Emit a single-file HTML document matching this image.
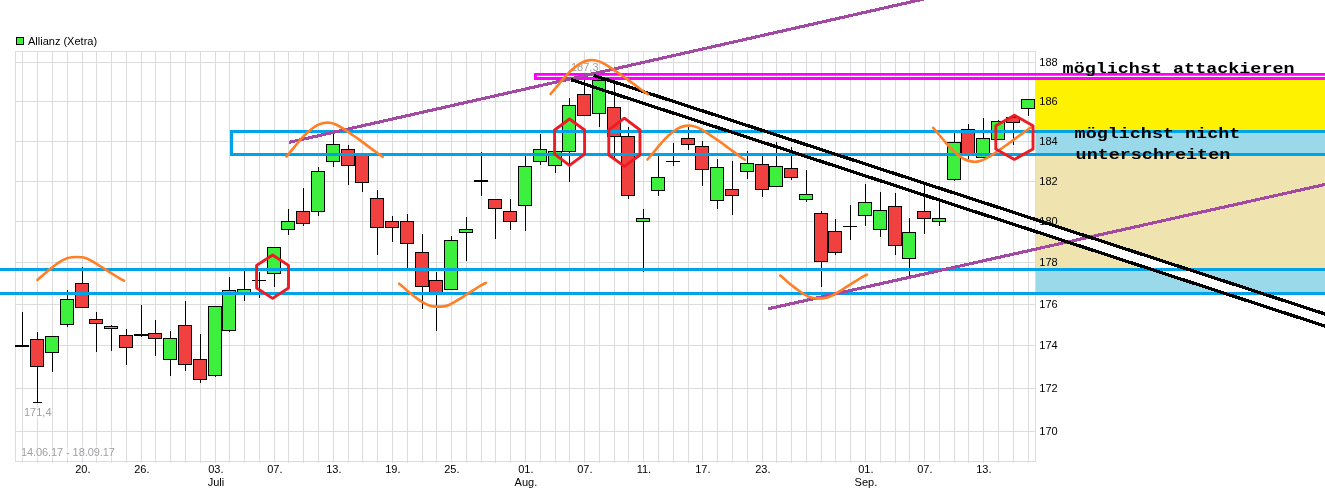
<!DOCTYPE html>
<html lang="de"><head><meta charset="utf-8"><title>Allianz (Xetra)</title>
<style>html,body{margin:0;padding:0;background:#fff;overflow:hidden}svg{display:block}</style>
</head><body>
<svg width="1325" height="504" viewBox="0 0 1325 504" style="display:block">
<rect x="0" y="0" width="1325" height="504" fill="#ffffff"/>
<g shape-rendering="crispEdges" fill="#dcdcdc">
<rect x="22" y="51" width="1" height="412"/>
<rect x="37" y="51" width="1" height="412"/>
<rect x="52" y="51" width="1" height="412"/>
<rect x="67" y="51" width="1" height="412"/>
<rect x="82" y="51" width="1" height="412"/>
<rect x="96" y="51" width="1" height="412"/>
<rect x="111" y="51" width="1" height="412"/>
<rect x="126" y="51" width="1" height="412"/>
<rect x="141" y="51" width="1" height="412"/>
<rect x="155" y="51" width="1" height="412"/>
<rect x="170" y="51" width="1" height="412"/>
<rect x="185" y="51" width="1" height="412"/>
<rect x="200" y="51" width="1" height="412"/>
<rect x="215" y="51" width="1" height="412"/>
<rect x="229" y="51" width="1" height="412"/>
<rect x="244" y="51" width="1" height="412"/>
<rect x="259" y="51" width="1" height="412"/>
<rect x="274" y="51" width="1" height="412"/>
<rect x="288" y="51" width="1" height="412"/>
<rect x="303" y="51" width="1" height="412"/>
<rect x="318" y="51" width="1" height="412"/>
<rect x="333" y="51" width="1" height="412"/>
<rect x="348" y="51" width="1" height="412"/>
<rect x="362" y="51" width="1" height="412"/>
<rect x="377" y="51" width="1" height="412"/>
<rect x="392" y="51" width="1" height="412"/>
<rect x="407" y="51" width="1" height="412"/>
<rect x="422" y="51" width="1" height="412"/>
<rect x="436" y="51" width="1" height="412"/>
<rect x="451" y="51" width="1" height="412"/>
<rect x="466" y="51" width="1" height="412"/>
<rect x="481" y="51" width="1" height="412"/>
<rect x="495" y="51" width="1" height="412"/>
<rect x="510" y="51" width="1" height="412"/>
<rect x="525" y="51" width="1" height="412"/>
<rect x="540" y="51" width="1" height="412"/>
<rect x="555" y="51" width="1" height="412"/>
<rect x="569" y="51" width="1" height="412"/>
<rect x="584" y="51" width="1" height="412"/>
<rect x="599" y="51" width="1" height="412"/>
<rect x="614" y="51" width="1" height="412"/>
<rect x="628" y="51" width="1" height="412"/>
<rect x="643" y="51" width="1" height="412"/>
<rect x="658" y="51" width="1" height="412"/>
<rect x="673" y="51" width="1" height="412"/>
<rect x="688" y="51" width="1" height="412"/>
<rect x="702" y="51" width="1" height="412"/>
<rect x="717" y="51" width="1" height="412"/>
<rect x="732" y="51" width="1" height="412"/>
<rect x="747" y="51" width="1" height="412"/>
<rect x="762" y="51" width="1" height="412"/>
<rect x="776" y="51" width="1" height="412"/>
<rect x="791" y="51" width="1" height="412"/>
<rect x="806" y="51" width="1" height="412"/>
<rect x="821" y="51" width="1" height="412"/>
<rect x="835" y="51" width="1" height="412"/>
<rect x="850" y="51" width="1" height="412"/>
<rect x="865" y="51" width="1" height="412"/>
<rect x="880" y="51" width="1" height="412"/>
<rect x="895" y="51" width="1" height="412"/>
<rect x="909" y="51" width="1" height="412"/>
<rect x="924" y="51" width="1" height="412"/>
<rect x="939" y="51" width="1" height="412"/>
<rect x="954" y="51" width="1" height="412"/>
<rect x="968" y="51" width="1" height="412"/>
<rect x="983" y="51" width="1" height="412"/>
<rect x="998" y="51" width="1" height="412"/>
<rect x="1013" y="51" width="1" height="412"/>
<rect x="1028" y="51" width="1" height="412"/>
<rect x="15" y="62" width="1020" height="1"/>
<rect x="15" y="101" width="1020" height="1"/>
<rect x="15" y="141" width="1020" height="1"/>
<rect x="15" y="181" width="1020" height="1"/>
<rect x="15" y="221" width="1020" height="1"/>
<rect x="15" y="262" width="1020" height="1"/>
<rect x="15" y="304" width="1020" height="1"/>
<rect x="15" y="345" width="1020" height="1"/>
<rect x="15" y="388" width="1020" height="1"/>
<rect x="15" y="431" width="1020" height="1"/>
<rect x="15" y="51" width="1021" height="1"/>
<rect x="15" y="461" width="1021" height="1"/>
<rect x="15" y="51" width="1" height="411"/>
<rect x="1035" y="51" width="1" height="411"/>
</g>
<g font-family="'Liberation Sans', Arial, sans-serif" font-size="11px" fill="#9d9fa3">
<rect x="23.5" y="407" width="28.5" height="10.5" fill="#fff" fill-opacity="0.8"/>
<rect x="570.5" y="62.5" width="28.5" height="9.5" fill="#fff" fill-opacity="0.8"/>
<rect x="20.5" y="447" width="95" height="10.5" fill="#fff" fill-opacity="0.45"/>
<text x="24" y="415.9">171,4</text>
<text x="571" y="71.2">187,3</text>
<text x="21" y="456.2" letter-spacing="-0.09">14.06.17 - 18.09.17</text>
</g>
<g shape-rendering="crispEdges">
<rect x="22" y="312" width="1" height="35" fill="#000"/>
<rect x="15" y="345" width="14" height="2" fill="#000"/>
<rect x="37" y="332" width="1" height="71" fill="#000"/>
<rect x="30" y="339" width="14" height="28" fill="#000"/>
<rect x="31" y="340" width="12" height="26" fill="#f04040"/>
<rect x="52" y="336" width="1" height="36" fill="#000"/>
<rect x="45" y="336" width="14" height="17" fill="#000"/>
<rect x="46" y="337" width="12" height="15" fill="#3df03d"/>
<rect x="67" y="290" width="1" height="37" fill="#000"/>
<rect x="60" y="299" width="14" height="26" fill="#000"/>
<rect x="61" y="300" width="12" height="24" fill="#3df03d"/>
<rect x="82" y="267" width="1" height="41" fill="#000"/>
<rect x="75" y="283" width="14" height="25" fill="#000"/>
<rect x="76" y="284" width="12" height="23" fill="#f04040"/>
<rect x="96" y="312" width="1" height="40" fill="#000"/>
<rect x="89" y="319" width="14" height="5" fill="#000"/>
<rect x="90" y="320" width="12" height="3" fill="#f04040"/>
<rect x="111" y="325" width="1" height="26" fill="#000"/>
<rect x="104" y="326" width="14" height="3" fill="#000"/>
<rect x="105" y="327" width="12" height="1" fill="#3df03d"/>
<rect x="126" y="329" width="1" height="36" fill="#000"/>
<rect x="119" y="335" width="14" height="13" fill="#000"/>
<rect x="120" y="336" width="12" height="11" fill="#f04040"/>
<rect x="141" y="305" width="1" height="32" fill="#000"/>
<rect x="134" y="334" width="14" height="2" fill="#000"/>
<rect x="155" y="320" width="1" height="36" fill="#000"/>
<rect x="148" y="333" width="14" height="6" fill="#000"/>
<rect x="149" y="334" width="12" height="4" fill="#f04040"/>
<rect x="170" y="331" width="1" height="45" fill="#000"/>
<rect x="163" y="338" width="14" height="22" fill="#000"/>
<rect x="164" y="339" width="12" height="20" fill="#3df03d"/>
<rect x="185" y="301" width="1" height="70" fill="#000"/>
<rect x="178" y="325" width="14" height="40" fill="#000"/>
<rect x="179" y="326" width="12" height="38" fill="#f04040"/>
<rect x="200" y="334" width="1" height="49" fill="#000"/>
<rect x="193" y="359" width="14" height="21" fill="#000"/>
<rect x="194" y="360" width="12" height="19" fill="#f04040"/>
<rect x="215" y="306" width="1" height="71" fill="#000"/>
<rect x="208" y="306" width="14" height="70" fill="#000"/>
<rect x="209" y="307" width="12" height="68" fill="#3df03d"/>
<rect x="229" y="277" width="1" height="55" fill="#000"/>
<rect x="222" y="290" width="14" height="41" fill="#000"/>
<rect x="223" y="291" width="12" height="39" fill="#3df03d"/>
<rect x="244" y="270" width="1" height="31" fill="#000"/>
<rect x="237" y="289" width="14" height="5" fill="#000"/>
<rect x="238" y="290" width="12" height="3" fill="#3df03d"/>
<rect x="259" y="272" width="1" height="26" fill="#000"/>
<rect x="252" y="280" width="14" height="1" fill="#000"/>
<rect x="274" y="247" width="1" height="40" fill="#000"/>
<rect x="267" y="247" width="14" height="27" fill="#000"/>
<rect x="268" y="248" width="12" height="25" fill="#3df03d"/>
<rect x="288" y="209" width="1" height="26" fill="#000"/>
<rect x="281" y="221" width="14" height="9" fill="#000"/>
<rect x="282" y="222" width="12" height="7" fill="#3df03d"/>
<rect x="303" y="188" width="1" height="38" fill="#000"/>
<rect x="296" y="211" width="14" height="13" fill="#000"/>
<rect x="297" y="212" width="12" height="11" fill="#f04040"/>
<rect x="318" y="167" width="1" height="49" fill="#000"/>
<rect x="311" y="171" width="14" height="41" fill="#000"/>
<rect x="312" y="172" width="12" height="39" fill="#3df03d"/>
<rect x="333" y="133" width="1" height="34" fill="#000"/>
<rect x="326" y="144" width="14" height="18" fill="#000"/>
<rect x="327" y="145" width="12" height="16" fill="#3df03d"/>
<rect x="348" y="145" width="1" height="40" fill="#000"/>
<rect x="341" y="149" width="14" height="17" fill="#000"/>
<rect x="342" y="150" width="12" height="15" fill="#f04040"/>
<rect x="362" y="154" width="1" height="38" fill="#000"/>
<rect x="355" y="154" width="14" height="29" fill="#000"/>
<rect x="356" y="155" width="12" height="27" fill="#f04040"/>
<rect x="377" y="190" width="1" height="65" fill="#000"/>
<rect x="370" y="198" width="14" height="30" fill="#000"/>
<rect x="371" y="199" width="12" height="28" fill="#f04040"/>
<rect x="392" y="216" width="1" height="26" fill="#000"/>
<rect x="385" y="221" width="14" height="7" fill="#000"/>
<rect x="386" y="222" width="12" height="5" fill="#f04040"/>
<rect x="407" y="214" width="1" height="55" fill="#000"/>
<rect x="400" y="221" width="14" height="23" fill="#000"/>
<rect x="401" y="222" width="12" height="21" fill="#f04040"/>
<rect x="422" y="234" width="1" height="75" fill="#000"/>
<rect x="415" y="252" width="14" height="35" fill="#000"/>
<rect x="416" y="253" width="12" height="33" fill="#f04040"/>
<rect x="436" y="272" width="1" height="59" fill="#000"/>
<rect x="429" y="280" width="14" height="14" fill="#000"/>
<rect x="430" y="281" width="12" height="12" fill="#f04040"/>
<rect x="451" y="236" width="1" height="54" fill="#000"/>
<rect x="444" y="240" width="14" height="50" fill="#000"/>
<rect x="445" y="241" width="12" height="48" fill="#3df03d"/>
<rect x="466" y="217" width="1" height="44" fill="#000"/>
<rect x="459" y="229" width="14" height="4" fill="#000"/>
<rect x="460" y="230" width="12" height="2" fill="#3df03d"/>
<rect x="481" y="152" width="1" height="44" fill="#000"/>
<rect x="474" y="180" width="14" height="2" fill="#000"/>
<rect x="495" y="199" width="1" height="40" fill="#000"/>
<rect x="488" y="199" width="14" height="10" fill="#000"/>
<rect x="489" y="200" width="12" height="8" fill="#f04040"/>
<rect x="510" y="199" width="1" height="31" fill="#000"/>
<rect x="503" y="211" width="14" height="11" fill="#000"/>
<rect x="504" y="212" width="12" height="9" fill="#f04040"/>
<rect x="525" y="155" width="1" height="76" fill="#000"/>
<rect x="518" y="166" width="14" height="40" fill="#000"/>
<rect x="519" y="167" width="12" height="38" fill="#3df03d"/>
<rect x="540" y="134" width="1" height="31" fill="#000"/>
<rect x="533" y="149" width="14" height="13" fill="#000"/>
<rect x="534" y="150" width="12" height="11" fill="#3df03d"/>
<rect x="555" y="151" width="1" height="22" fill="#000"/>
<rect x="548" y="151" width="14" height="15" fill="#000"/>
<rect x="549" y="152" width="12" height="13" fill="#3df03d"/>
<rect x="569" y="98" width="1" height="84" fill="#000"/>
<rect x="562" y="105" width="14" height="47" fill="#000"/>
<rect x="563" y="106" width="12" height="45" fill="#3df03d"/>
<rect x="584" y="76" width="1" height="40" fill="#000"/>
<rect x="577" y="94" width="14" height="22" fill="#000"/>
<rect x="578" y="95" width="12" height="20" fill="#f04040"/>
<rect x="599" y="80" width="1" height="47" fill="#000"/>
<rect x="592" y="80" width="14" height="34" fill="#000"/>
<rect x="593" y="81" width="12" height="32" fill="#3df03d"/>
<rect x="614" y="83" width="1" height="77" fill="#000"/>
<rect x="607" y="107" width="14" height="30" fill="#000"/>
<rect x="608" y="108" width="12" height="28" fill="#f04040"/>
<rect x="628" y="127" width="1" height="72" fill="#000"/>
<rect x="621" y="136" width="14" height="60" fill="#000"/>
<rect x="622" y="137" width="12" height="58" fill="#f04040"/>
<rect x="643" y="209" width="1" height="63" fill="#000"/>
<rect x="636" y="218" width="14" height="4" fill="#000"/>
<rect x="637" y="219" width="12" height="2" fill="#3df03d"/>
<rect x="658" y="156" width="1" height="40" fill="#000"/>
<rect x="651" y="177" width="14" height="14" fill="#000"/>
<rect x="652" y="178" width="12" height="12" fill="#3df03d"/>
<rect x="673" y="143" width="1" height="23" fill="#000"/>
<rect x="666" y="161" width="14" height="1" fill="#000"/>
<rect x="688" y="127" width="1" height="23" fill="#000"/>
<rect x="681" y="138" width="14" height="7" fill="#000"/>
<rect x="682" y="139" width="12" height="5" fill="#f04040"/>
<rect x="702" y="141" width="1" height="45" fill="#000"/>
<rect x="695" y="146" width="14" height="24" fill="#000"/>
<rect x="696" y="147" width="12" height="22" fill="#f04040"/>
<rect x="717" y="159" width="1" height="50" fill="#000"/>
<rect x="710" y="167" width="14" height="34" fill="#000"/>
<rect x="711" y="168" width="12" height="32" fill="#3df03d"/>
<rect x="732" y="161" width="1" height="54" fill="#000"/>
<rect x="725" y="189" width="14" height="7" fill="#000"/>
<rect x="726" y="190" width="12" height="5" fill="#f04040"/>
<rect x="747" y="151" width="1" height="28" fill="#000"/>
<rect x="740" y="163" width="14" height="9" fill="#000"/>
<rect x="741" y="164" width="12" height="7" fill="#3df03d"/>
<rect x="762" y="156" width="1" height="41" fill="#000"/>
<rect x="755" y="164" width="14" height="26" fill="#000"/>
<rect x="756" y="165" width="12" height="24" fill="#f04040"/>
<rect x="776" y="142" width="1" height="45" fill="#000"/>
<rect x="769" y="166" width="14" height="21" fill="#000"/>
<rect x="770" y="167" width="12" height="19" fill="#3df03d"/>
<rect x="791" y="147" width="1" height="33" fill="#000"/>
<rect x="784" y="168" width="14" height="10" fill="#000"/>
<rect x="785" y="169" width="12" height="8" fill="#f04040"/>
<rect x="806" y="170" width="1" height="32" fill="#000"/>
<rect x="799" y="194" width="14" height="6" fill="#000"/>
<rect x="800" y="195" width="12" height="4" fill="#3df03d"/>
<rect x="821" y="211" width="1" height="76" fill="#000"/>
<rect x="814" y="213" width="14" height="49" fill="#000"/>
<rect x="815" y="214" width="12" height="47" fill="#f04040"/>
<rect x="835" y="219" width="1" height="36" fill="#000"/>
<rect x="828" y="231" width="14" height="22" fill="#000"/>
<rect x="829" y="232" width="12" height="20" fill="#f04040"/>
<rect x="850" y="205" width="1" height="35" fill="#000"/>
<rect x="843" y="226" width="14" height="1" fill="#000"/>
<rect x="865" y="184" width="1" height="42" fill="#000"/>
<rect x="858" y="202" width="14" height="14" fill="#000"/>
<rect x="859" y="203" width="12" height="12" fill="#3df03d"/>
<rect x="880" y="192" width="1" height="45" fill="#000"/>
<rect x="873" y="210" width="14" height="20" fill="#000"/>
<rect x="874" y="211" width="12" height="18" fill="#3df03d"/>
<rect x="895" y="193" width="1" height="62" fill="#000"/>
<rect x="888" y="206" width="14" height="40" fill="#000"/>
<rect x="889" y="207" width="12" height="38" fill="#f04040"/>
<rect x="909" y="218" width="1" height="58" fill="#000"/>
<rect x="902" y="232" width="14" height="27" fill="#000"/>
<rect x="903" y="233" width="12" height="25" fill="#3df03d"/>
<rect x="924" y="184" width="1" height="50" fill="#000"/>
<rect x="917" y="211" width="14" height="8" fill="#000"/>
<rect x="918" y="212" width="12" height="6" fill="#f04040"/>
<rect x="939" y="199" width="1" height="27" fill="#000"/>
<rect x="932" y="218" width="14" height="4" fill="#000"/>
<rect x="933" y="219" width="12" height="2" fill="#3df03d"/>
<rect x="954" y="133" width="1" height="48" fill="#000"/>
<rect x="947" y="142" width="14" height="38" fill="#000"/>
<rect x="948" y="143" width="12" height="36" fill="#3df03d"/>
<rect x="968" y="124" width="1" height="35" fill="#000"/>
<rect x="961" y="129" width="14" height="25" fill="#000"/>
<rect x="962" y="130" width="12" height="23" fill="#f04040"/>
<rect x="983" y="118" width="1" height="40" fill="#000"/>
<rect x="976" y="138" width="14" height="20" fill="#000"/>
<rect x="977" y="139" width="12" height="18" fill="#3df03d"/>
<rect x="998" y="120" width="1" height="20" fill="#000"/>
<rect x="991" y="121" width="14" height="19" fill="#000"/>
<rect x="992" y="122" width="12" height="17" fill="#3df03d"/>
<rect x="1013" y="115" width="1" height="30" fill="#000"/>
<rect x="1006" y="117" width="14" height="6" fill="#000"/>
<rect x="1007" y="118" width="12" height="4" fill="#f04040"/>
<rect x="1028" y="99" width="1" height="17" fill="#000"/>
<rect x="1021" y="99" width="14" height="10" fill="#000"/>
<rect x="1022" y="100" width="12" height="8" fill="#3df03d"/>
<rect x="33" y="402" width="9" height="1" fill="#000"/>
</g>
<rect x="16" y="37" width="8" height="8" fill="#000" shape-rendering="crispEdges"/>
<rect x="17" y="38" width="6" height="6" fill="#3df03d" shape-rendering="crispEdges"/>
<text x="28" y="44.8" font-family="'Liberation Sans', Arial, sans-serif" font-size="11px" fill="#000">Allianz (Xetra)</text>
<g font-family="'Liberation Sans', Arial, sans-serif" font-size="11px" fill="#000" text-anchor="middle">
<text x="82.9" y="473.2">20.</text>
<text x="141.9" y="473.2">26.</text>
<text x="215.9" y="473.2">03.</text>
<text x="274.9" y="473.2">07.</text>
<text x="333.9" y="473.2">13.</text>
<text x="392.9" y="473.2">19.</text>
<text x="451.9" y="473.2">25.</text>
<text x="525.9" y="473.2">01.</text>
<text x="584.9" y="473.2">07.</text>
<text x="643.9" y="473.2">11.</text>
<text x="702.9" y="473.2">17.</text>
<text x="762.9" y="473.2">23.</text>
<text x="865.9" y="473.2">01.</text>
<text x="924.9" y="473.2">07.</text>
<text x="983.9" y="473.2">13.</text>
<text x="215.9" y="486.2">Juli</text>
<text x="525.9" y="486.2">Aug.</text>
<text x="865.9" y="486.2">Sep.</text>
</g>
<g shape-rendering="crispEdges">
<rect x="1036" y="80" width="289" height="50" fill="#fff200"/>
<rect x="1036" y="133" width="289" height="20" fill="#99d9ea"/>
<rect x="1036" y="156" width="289" height="112" fill="#efe4b0"/>
<rect x="1036" y="271" width="289" height="21" fill="#99d9ea"/>
</g>
<polygon points="1036,219.70 1325,314.00 1325,326.12 1036,231.64" fill="#fff"/>
<g font-family="'Liberation Sans', Arial, sans-serif" font-size="11px" fill="#000">
<text x="1039.3" y="66.2">188</text>
<text x="1039.3" y="105.2">186</text>
<text x="1039.3" y="145.2">184</text>
<text x="1039.3" y="185.2">182</text>
<text x="1039.3" y="225.2">180</text>
<text x="1039.3" y="266.2">178</text>
<text x="1039.3" y="308.2">176</text>
<text x="1039.3" y="349.2">174</text>
<text x="1039.3" y="392.2">172</text>
<text x="1039.3" y="435.2">170</text>
</g>
<path d="M534 73 H1330 V80 H534 Z M536.8 75.7 V77.1 H1330 V75.7 Z" fill="#ff00ff" fill-rule="evenodd"/>
<g fill="#00a2e8" shape-rendering="crispEdges">
<rect x="230" y="130" width="1095" height="3"/>
<rect x="230" y="153" width="1095" height="3"/>
<rect x="230" y="130" width="3" height="26"/>
<rect x="0" y="268" width="1325" height="3"/>
<rect x="0" y="292" width="1325" height="3"/>
</g>
<g stroke="#a349a4" stroke-width="3.1" fill="none" shape-rendering="crispEdges">
<line x1="288.9" y1="142.4" x2="928.3" y2="-2"/>
<line x1="767.9" y1="308.9" x2="1328" y2="183.83"/>
</g>
<g stroke="#000" stroke-width="3.25" fill="none" shape-rendering="crispEdges">
<line x1="593.8" y1="75.4" x2="1328" y2="314.98"/>
<line x1="570.9" y1="79.6" x2="1328" y2="327.1"/>
</g>
<g stroke="#ff7f27" stroke-width="2.6" fill="none" stroke-linecap="round" stroke-linejoin="round">
<path d="M37.40 279.90 C38.65 278.82 42.32 275.57 44.90 273.40 C47.48 271.23 50.42 268.82 52.90 266.90 C55.38 264.98 57.48 263.32 59.80 261.90 C62.12 260.48 64.80 259.18 66.80 258.40 C68.80 257.62 69.30 257.40 71.80 257.20 C74.30 257.00 79.15 256.92 81.80 257.20 C84.45 257.48 85.38 257.87 87.70 258.90 C90.02 259.93 93.03 261.82 95.70 263.40 C98.37 264.98 101.05 266.73 103.70 268.40 C106.35 270.07 108.95 271.73 111.60 273.40 C114.25 275.07 117.52 277.18 119.60 278.40 C121.68 279.62 123.35 280.32 124.10 280.70"/>
<path d="M286.40 156.60 C287.82 154.90 292.15 149.68 294.90 146.40 C297.65 143.12 300.42 139.57 302.90 136.90 C305.38 134.23 307.48 132.32 309.80 130.40 C312.12 128.48 314.47 126.63 316.80 125.40 C319.13 124.17 321.63 123.43 323.80 123.00 C325.97 122.57 327.82 122.55 329.80 122.80 C331.78 123.05 333.38 123.48 335.70 124.50 C338.02 125.52 341.03 127.25 343.70 128.90 C346.37 130.55 349.05 132.57 351.70 134.40 C354.35 136.23 356.95 137.98 359.60 139.90 C362.25 141.82 364.93 143.92 367.60 145.90 C370.27 147.88 373.08 149.98 375.60 151.80 C378.12 153.62 381.52 155.97 382.70 156.80"/>
<path d="M550.60 94.00 C552.03 92.30 556.41 87.08 559.19 83.80 C561.96 80.52 564.76 76.97 567.26 74.30 C569.77 71.63 571.89 69.72 574.23 67.80 C576.57 65.88 578.95 64.03 581.30 62.80 C583.66 61.57 586.19 60.83 588.37 60.40 C590.56 59.97 592.43 59.95 594.43 60.20 C596.44 60.45 598.05 60.88 600.39 61.90 C602.73 62.92 605.78 64.65 608.47 66.30 C611.17 67.95 613.88 69.97 616.55 71.80 C619.23 73.63 621.86 75.38 624.53 77.30 C627.21 79.22 629.92 81.32 632.61 83.30 C635.31 85.28 638.15 87.38 640.69 89.20 C643.23 91.02 646.67 93.37 647.86 94.20"/>
<path d="M647.50 159.50 C648.93 157.80 653.31 152.58 656.09 149.30 C658.86 146.02 661.66 142.47 664.16 139.80 C666.67 137.13 668.79 135.22 671.13 133.30 C673.47 131.38 675.85 129.53 678.20 128.30 C680.56 127.07 683.09 126.33 685.27 125.90 C687.46 125.47 689.33 125.45 691.33 125.70 C693.34 125.95 694.95 126.38 697.29 127.40 C699.63 128.42 702.68 130.15 705.37 131.80 C708.07 133.45 710.78 135.47 713.45 137.30 C716.13 139.13 718.76 140.88 721.43 142.80 C724.11 144.72 726.82 146.82 729.51 148.80 C732.21 150.78 735.05 152.88 737.59 154.70 C740.13 156.52 743.57 158.87 744.76 159.70"/>
<path d="M399.20 283.70 C400.45 284.78 404.12 288.03 406.70 290.20 C409.28 292.37 412.22 294.78 414.70 296.70 C417.18 298.62 419.28 300.28 421.60 301.70 C423.92 303.12 426.60 304.42 428.60 305.20 C430.60 305.98 431.10 306.20 433.60 306.40 C436.10 306.60 440.95 306.68 443.60 306.40 C446.25 306.12 447.18 305.73 449.50 304.70 C451.82 303.67 454.83 301.78 457.50 300.20 C460.17 298.62 462.85 296.87 465.50 295.20 C468.15 293.53 470.75 291.87 473.40 290.20 C476.05 288.53 479.32 286.42 481.40 285.20 C483.48 283.98 485.15 283.28 485.90 282.90"/>
<path d="M780.20 275.40 C781.45 276.48 785.12 279.73 787.70 281.90 C790.28 284.07 793.22 286.48 795.70 288.40 C798.18 290.32 800.28 291.98 802.60 293.40 C804.92 294.82 807.60 296.12 809.60 296.90 C811.60 297.68 812.10 297.90 814.60 298.10 C817.10 298.30 821.95 298.38 824.60 298.10 C827.25 297.82 828.18 297.43 830.50 296.40 C832.82 295.37 835.83 293.48 838.50 291.90 C841.17 290.32 843.85 288.57 846.50 286.90 C849.15 285.23 851.75 283.57 854.40 281.90 C857.05 280.23 860.32 278.12 862.40 276.90 C864.48 275.68 866.15 274.98 866.90 274.60"/>
<path d="M933.20 127.80 C934.63 129.50 939.02 134.72 941.80 138.00 C944.59 141.28 947.38 144.83 949.90 147.50 C952.41 150.17 954.54 152.08 956.88 154.00 C959.23 155.92 961.60 157.77 963.96 159.00 C966.33 160.23 968.86 160.97 971.05 161.40 C973.24 161.83 975.11 161.85 977.12 161.60 C979.13 161.35 980.75 160.92 983.09 159.90 C985.44 158.88 988.49 157.15 991.19 155.50 C993.89 153.85 996.60 151.83 999.28 150.00 C1001.97 148.17 1004.60 146.42 1007.28 144.50 C1009.96 142.58 1012.68 140.48 1015.37 138.50 C1018.07 136.52 1020.92 134.42 1023.47 132.60 C1026.02 130.78 1029.46 128.43 1030.66 127.60"/>
</g>
<g stroke="#ed1c24" stroke-width="2.9" fill="none" stroke-linejoin="round">
<polygon points="272.6,255.0 288.5,265.4 288.5,288 272.6,298.4 256.6,288 256.6,265.4"/>
<polygon points="569.5,119.0 584.6,130 584.6,154.2 569.5,165.4 554.6,154.2 554.6,130"/>
<polygon points="624.4,118.19999999999999 640,130 640,155 624.4,166.4 608.8,155 608.8,130"/>
<polygon points="1014.4,115.19999999999999 1033,125.8 1033,149 1014.4,159.4 995.8,149 995.8,125.8"/>
</g>
<text transform="translate(1062.6 72.6) scale(1.151 0.87)" font-family="'Liberation Mono', 'Courier New', monospace" font-weight="bold" font-size="16px" fill="#000">möglichst attackieren</text>
<text transform="translate(1074.6 137.8) scale(1.151 0.87)" font-family="'Liberation Mono', 'Courier New', monospace" font-weight="bold" font-size="16px" fill="#000">möglichst nicht</text>
<text transform="translate(1075.6 159.2) scale(1.151 0.87)" font-family="'Liberation Mono', 'Courier New', monospace" font-weight="bold" font-size="16px" fill="#000">unterschreiten</text>
</svg>
</body></html>
